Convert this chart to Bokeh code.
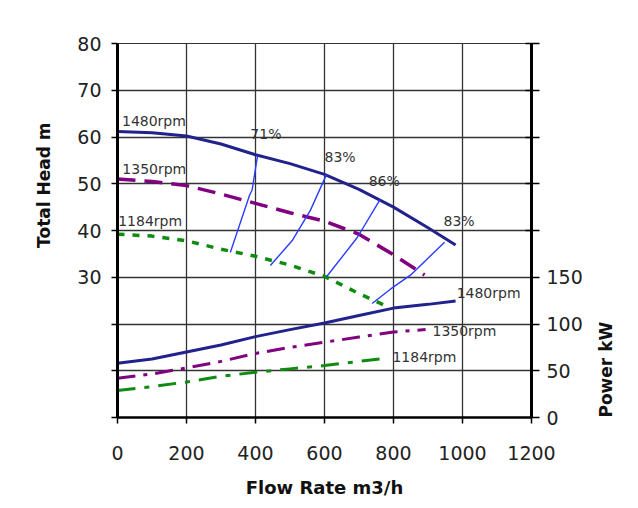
import numpy as np
from bokeh.plotting import figure
from bokeh.models import Range1d, LinearAxis, FixedTicker, Title, ColumnDataSource, BoxAnnotation
from bokeh.core.properties import value
from bokeh.embed import file_html
from bokeh.resources import INLINE

# ---- head curves (Total Head m) ----
flow_1480 = [0, 100, 200, 300, 400, 500, 600, 700, 800, 900, 980]
head_1480 = [61.2, 60.9, 60.2, 58.5, 56.2, 54.3, 52.0, 48.8, 45.0, 40.6, 36.9]
flow_1350 = [0, 100, 200, 300, 400, 500, 600, 700, 800, 890]
head_1350 = [51.0, 50.5, 49.6, 47.8, 45.8, 43.8, 42.0, 39.2, 34.8, 30.5]
flow_1184 = [0, 100, 200, 300, 400, 500, 600, 700, 780]
head_1184 = [39.2, 38.8, 37.8, 36.0, 34.5, 32.6, 30.2, 26.5, 23.8]

# ---- power curves (Power kW) ----
pflow_1480 = [0, 100, 200, 300, 400, 500, 600, 700, 800, 900, 980]
power_1480 = [58, 62.5, 70, 77.5, 86.5, 94, 101, 109, 117, 121, 124.5]
pflow_1350 = [0, 100, 200, 300, 400, 500, 600, 700, 800, 893]
power_1350 = [42, 46.5, 53, 60, 68.5, 75, 80.5, 86, 91.5, 94]
pflow_1184 = [0, 100, 200, 300, 400, 500, 600, 700, 780]
power_1184 = [29, 33, 38, 44, 48.5, 52, 55.5, 60, 63.5]

# ---- iso-efficiency lines ----
eff71_flow = [327, 383, 390, 406]
eff71_head = [35.3, 47.6, 48.6, 56.0]
eff83a_flow = [443, 506, 559, 606]
eff83a_head = [32.5, 37.8, 44.3, 52.0]
eff86_flow = [606, 695, 761]
eff86_head = [30.1, 38.5, 46.6]
eff83b_flow = [738, 792, 850, 948]
eff83b_head = [24.4, 27.5, 30.5, 37.5]

rpm_labels = ["1480rpm", "1350rpm", "1184rpm"]
eff_labels = ["71%", "83%", "86%", "83%"]

x_ticks = [0, 200, 400, 600, 800, 1000, 1200]
head_ticks = [30, 40, 50, 60, 70, 80]
power_ticks = [0, 50, 100, 150]

NAVY = "#22228c"
PURPLE = "#800080"
GREEN = "#108a10"
BLUE = "#2a3cff"
FONT = "DejaVu Sans"

p = figure(width=630, height=500, x_range=Range1d(0, 1200), y_range=Range1d(0, 80),
           output_backend="svg", toolbar_location=None,
           min_border_left=117, min_border_right=99, min_border_top=43, min_border_bottom=83,
           background_fill_color="white", border_fill_color="white")
p.extra_y_ranges = {"power": Range1d(0, 400)}

p.outline_line_color = "#333333"
p.outline_line_width = 1.2

# grid
p.xgrid.ticker = FixedTicker(ticks=[200, 400, 600, 800, 1000])
p.ygrid.ticker = FixedTicker(ticks=[10, 20, 30, 40, 50, 60, 70, 80])
for g in (p.xgrid, p.ygrid):
    g.grid_line_color = "#333333"
    g.grid_line_width = 1.3

# bottom axis
xa = p.xaxis[0]
xa.ticker = FixedTicker(ticks=x_ticks)
xa.axis_line_width = 2.5
xa.axis_line_color = "black"
xa.major_tick_out = 6
xa.major_tick_in = 0
xa.major_tick_line_width = 1.5
xa.minor_tick_line_color = None
xa.major_label_text_font = FONT
xa.major_label_text_font_size = "19px"
xa.major_label_text_color = "#222222"
xa.major_label_standoff = 22
xa.axis_label = "Flow Rate m3/h"
xa.axis_label_text_font = FONT
xa.axis_label_text_font_style = "bold"
xa.axis_label_text_font_size = "18px"
xa.axis_label_text_color = "#111111"
xa.axis_label_standoff = 14

# left axis
ya = p.yaxis[0]
ya.ticker = FixedTicker(ticks=head_ticks, minor_ticks=[0, 10, 20])
ya.axis_line_width = 3
ya.axis_line_color = "black"
ya.major_tick_out = 6
ya.major_tick_in = 0
ya.minor_tick_out = 6
ya.minor_tick_in = 0
ya.major_tick_line_width = 1.5
ya.minor_tick_line_width = 1.5
ya.minor_tick_line_color = "black"
ya.major_label_text_font = FONT
ya.major_label_text_font_size = "19px"
ya.major_label_text_color = "#222222"
ya.major_label_standoff = 10

# right axis
ra = LinearAxis(y_range_name="power", ticker=FixedTicker(ticks=power_ticks, minor_ticks=[200, 250, 300, 350, 400]))
ra.axis_line_width = 3
ra.axis_line_color = "black"
ra.major_tick_out = 8
ra.major_tick_in = 0
ra.minor_tick_out = 8
ra.minor_tick_in = 6
ra.major_tick_line_width = 1.5
ra.minor_tick_line_width = 1.5
ra.minor_tick_line_color = "black"
ra.major_label_text_font = FONT
ra.major_label_text_font_size = "19px"
ra.major_label_text_color = "#222222"
ra.major_label_standoff = 7

use_axis_title = hasattr(ra, "axis_label_align")
if use_axis_title:
    ra.axis_label = "Power kW"
    ra.axis_label_orientation = np.pi / 2
    ra.axis_label_text_font = FONT
    ra.axis_label_text_font_style = "bold"
    ra.axis_label_text_font_size = "17px"
    ra.axis_label_text_color = "#111111"
    ra.axis_label_standoff = 20
    try:
        ra.axis_label_align = "start"
    except Exception:
        ra.axis_label_align = "left"
p.add_layout(ra, "right")

# axis titles as side titles (shifted along the side like the original)
p.add_layout(Title(text="Total Head m", align="right", offset=79, standoff=42,
                   text_font=FONT, text_font_style="bold", text_font_size="17px",
                   text_color="#111111"), "left")
if not use_axis_title:
    p.add_layout(Title(text="Power kW", align="right", offset=25, standoff=15,
                       text_font=FONT, text_font_style="bold", text_font_size="17px",
                       text_color="#111111"), "right")

# head curves
p.line(flow_1480, head_1480, line_color=NAVY, line_width=3)
p.line(flow_1350, head_1350, line_color=PURPLE, line_width=3.5, line_dash="18 9")
p.line(flow_1184, head_1184, line_color=GREEN, line_width=3.5, line_dash="7 8")

# power curves
p.line(pflow_1480, power_1480, line_color=NAVY, line_width=3, y_range_name="power")
p.line(pflow_1350, power_1350, line_color=PURPLE, line_width=3, line_dash="18 8 4 8", y_range_name="power")
p.line(pflow_1184, power_1184, line_color=GREEN, line_width=3, line_dash="18 9 5 9", y_range_name="power")

# iso-efficiency lines
for fx, fy in ((eff71_flow, eff71_head), (eff83a_flow, eff83a_head),
               (eff86_flow, eff86_head), (eff83b_flow, eff83b_head)):
    p.line(fx, fy, line_color=BLUE, line_width=1.4)

# text labels
head_lab = ColumnDataSource(dict(x=[13, 14, 2], y=[63.5, 53.2, 42.1], t=rpm_labels))
p.text("x", "y", text="t", source=head_lab, text_font=value(FONT), text_font_size="14px",
       text_color="#333333", text_baseline="middle", text_align="left")
pow_lab = ColumnDataSource(dict(x=[983, 913, 797], y=[133, 92.8, 65], t=rpm_labels))
p.text("x", "y", text="t", source=pow_lab, text_font=value(FONT), text_font_size="14px",
       text_color="#333333", text_baseline="middle", text_align="left", y_range_name="power")
eff_lab = ColumnDataSource(dict(x=[385, 600, 728, 945], y=[60.7, 55.8, 50.5, 42.1], t=eff_labels))
p.text("x", "y", text="t", source=eff_lab, text_font=value(FONT), text_font_size="14px",
       text_color="#333333", text_baseline="middle", text_align="left")

# outer grey frame of the chart area
p.add_layout(BoxAnnotation(left=5, right=628, top=5, bottom=520, level="overlay",
                           left_units="canvas", right_units="canvas", top_units="canvas", bottom_units="canvas",
                           fill_alpha=0, line_color="#9a9a9a", line_width=2))

open("out.html", "w").write(file_html(p, INLINE))
